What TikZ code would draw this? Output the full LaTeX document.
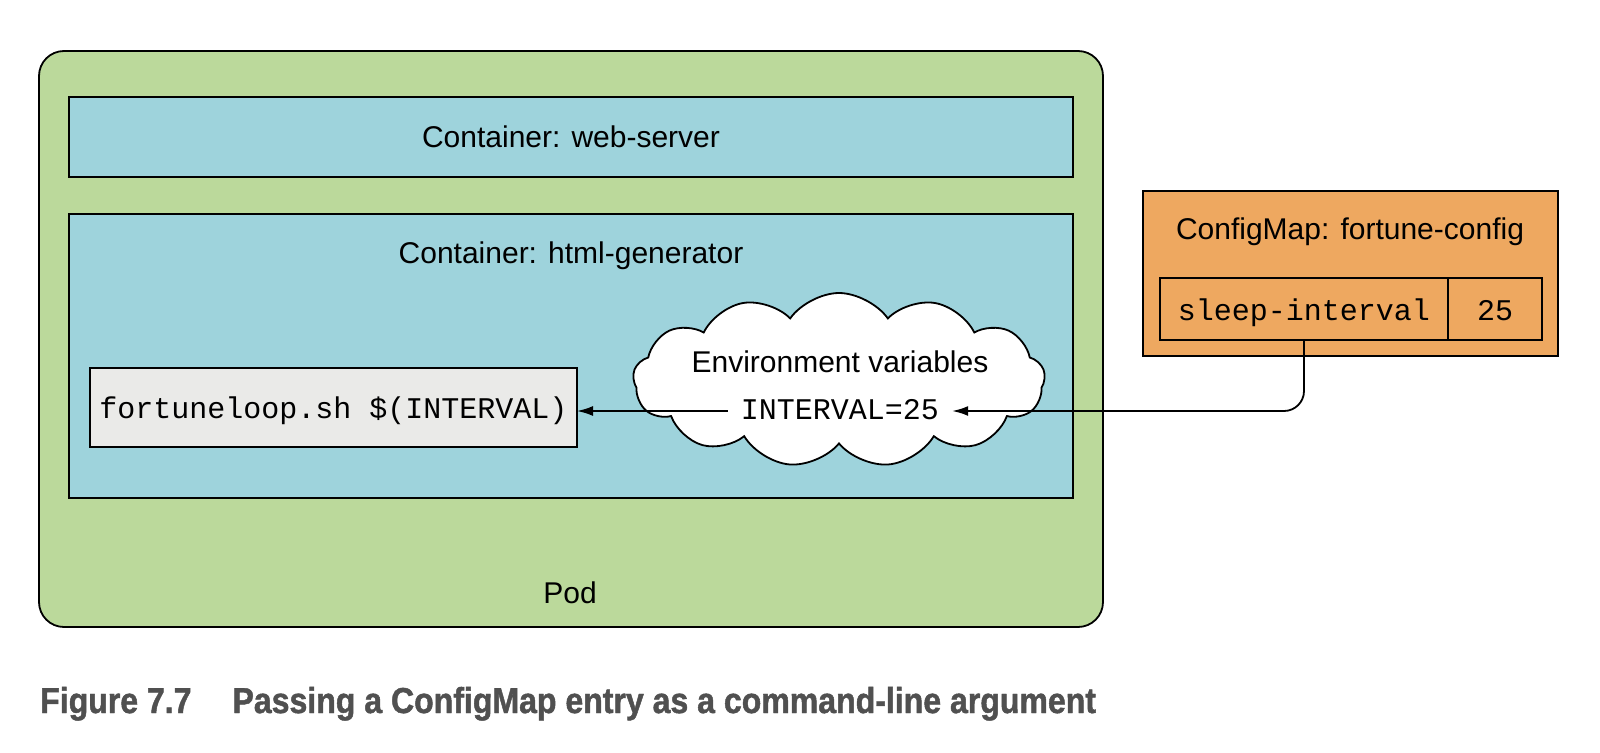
\documentclass[tikz,border=0pt]{standalone}
\usepackage{fontspec}
\setmainfont{Liberation Sans}
\setmonofont{Liberation Mono}
\newfontfamily\capfont[FakeStretch=0.89, BoldFeatures={FakeBold=1.3}]{Liberation Sans}
\usetikzlibrary{shapes.symbols,arrows.meta}
\definecolor{podgreen}{HTML}{BBD99B}
\definecolor{contblue}{HTML}{9ED3DC}
\definecolor{cmorange}{HTML}{EEA860}
\definecolor{boxgray}{HTML}{EAEAE8}
\definecolor{capgray}{HTML}{505050}
\begin{document}
\begin{tikzpicture}[x=1pt,y=-1pt,
  box/.style={draw, line width=1.8pt, inner sep=0pt, outer sep=0pt},
  sans/.style={font=\fontsize{30}{36}\selectfont},
  mono/.style={font=\fontsize{30}{36}\selectfont\ttfamily},
  lbl/.style={sans, anchor=base, inner sep=0pt},
  arr/.style={line width=1.8pt, -{Latex[length=16pt,width=10pt]}}]
\useasboundingbox (0,0) rectangle (1600,752);

% Pod
\node[box, fill=podgreen, rounded corners=25pt, minimum width=1064pt, minimum height=576pt] (pod) at (571,339) {};
\node[lbl] (podlbl) at (570,603) {Pod};

% containers
\node[box, fill=contblue, sans, minimum width=1004pt, minimum height=80pt, text height=20pt, text depth=0pt] (web) at (571,137) {Container: web-server};
\node[box, fill=contblue, minimum width=1004pt, minimum height=284pt] (html) at (571,356) {};
\node[lbl] (htmllbl) at (571,263) {Container: html-generator};

% script box
\node[box, fill=boxgray, mono, minimum width=487pt, minimum height=79pt, text height=21pt, text depth=0pt] (loop) at (333.5,407.5) {fortuneloop.sh \$(INTERVAL)};

% cloud
\node[cloud, draw, line width=1.8pt, fill=white, cloud puffs=13, cloud puff arc=110, cloud ignores aspect, minimum width=412pt, minimum height=174pt, inner sep=0pt] (env) at (839,380) {};
\node[lbl] (envlbl) at (840,372) {Environment variables};
\node[mono, inner xsep=13pt, inner ysep=0pt, text height=16pt, text depth=0pt] (ival) at (840,411) {INTERVAL=25};

% ConfigMap
\node[box, fill=cmorange, minimum width=415pt, minimum height=165pt] (cm) at (1350.5,273.5) {};
\node[lbl] (cmlbl) at (1350,239) {ConfigMap: fortune-config};
\node[box, mono, minimum width=288pt, minimum height=62pt, text height=22pt, text depth=0pt] (key) at (1304,309) {sleep-interval};
\node[box, mono, minimum width=94pt, minimum height=62pt, text height=22pt, text depth=0pt] (val) at (1495,309) {25};

% connectors
\draw[arr] (ival.west) -- (ival.west -| loop.east);
\draw[arr, rounded corners=20pt] (key.south) -- (key.south |- ival.east) -- (ival.east);

% caption
\node[anchor=base west, inner sep=0pt, text=capgray, font=\capfont\bfseries\fontsize{36}{40}\selectfont] (cap) at (40,713) {Figure 7.7\hspace{41pt}Passing a ConfigMap entry as a command-line argument};
\end{tikzpicture}
\end{document}
